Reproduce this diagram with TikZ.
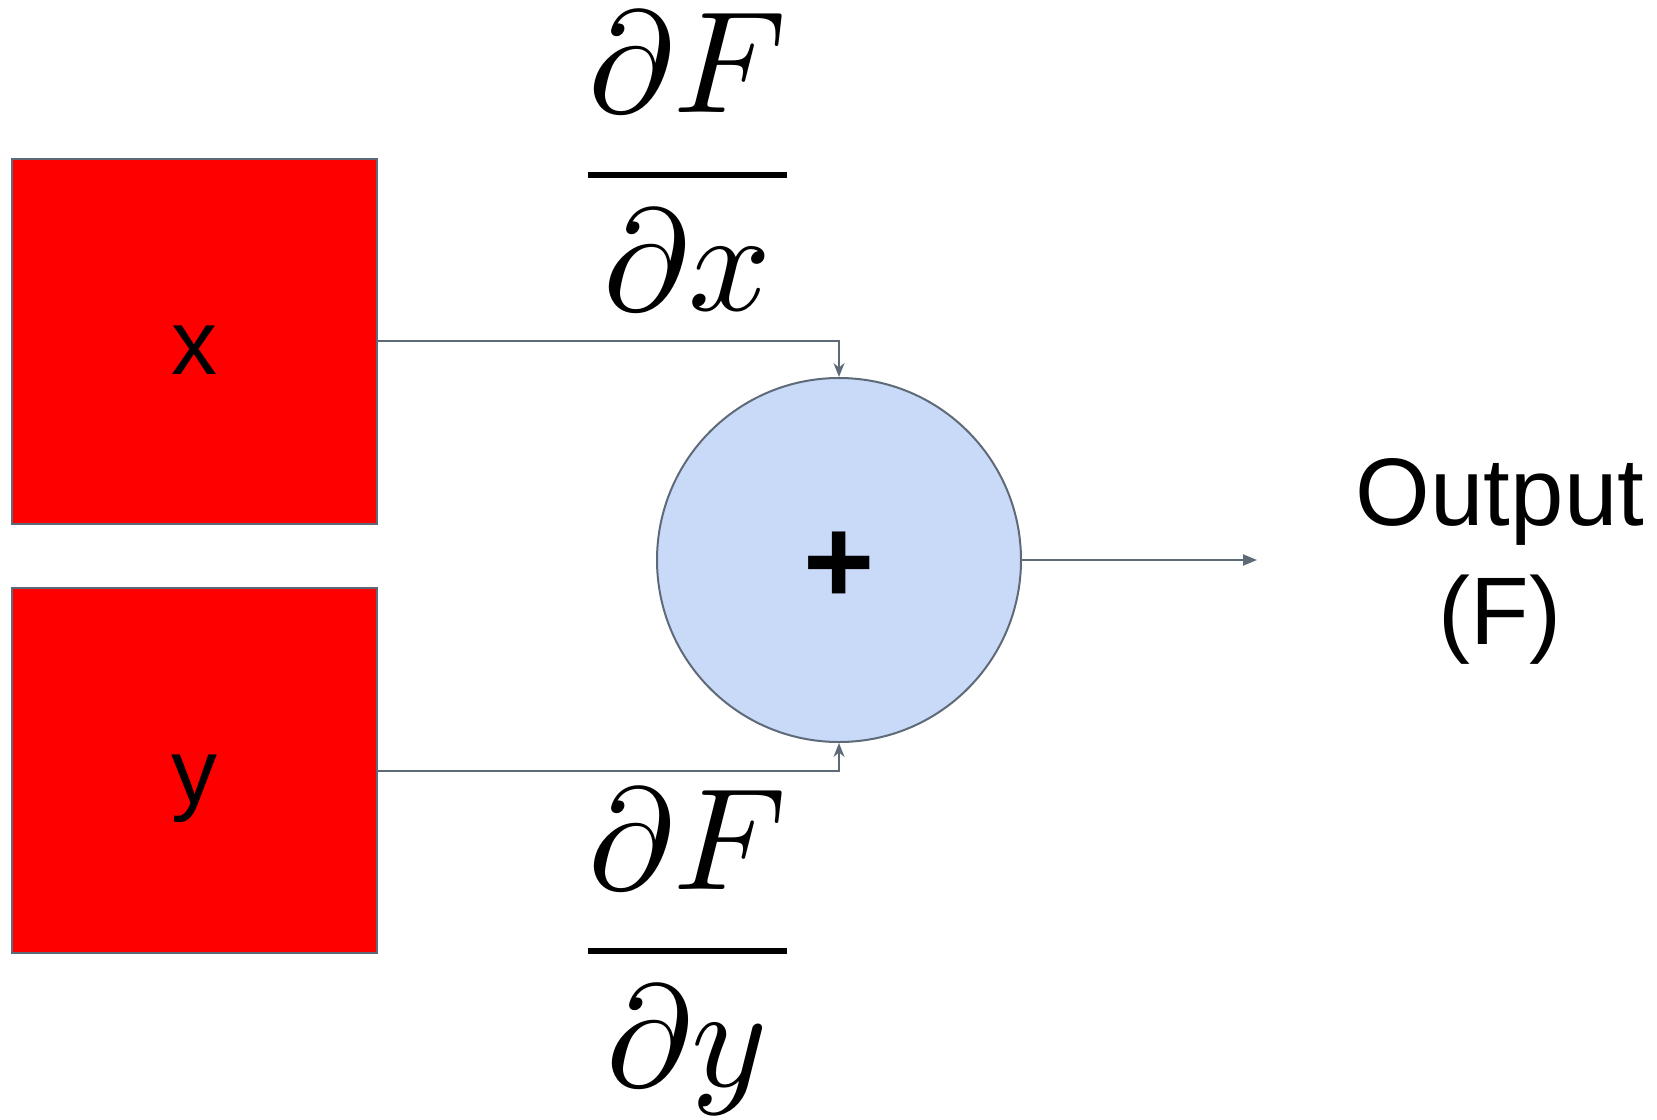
\RequirePackage{fix-cm}
\documentclass[tikz,border=0pt]{standalone}
\usepackage{fontspec}
\setmainfont{Liberation Sans}
\DeclareFontShape{OML}{cmm}{m}{it}{<-> cmmi10}{}
\DeclareFontShape{OMX}{cmex}{m}{n}{<-> cmex10}{}
\usepackage{xcolor}
\usepackage{tikz}
\usetikzlibrary{shapes.geometric, arrows.meta, positioning, calc}
\definecolor{inputred}{RGB}{255, 0, 0}
\definecolor{edgegray}{RGB}{95, 106, 120}
\definecolor{sumblue}{RGB}{201, 218, 248}
\tikzstyle{inputbox} = [
    rectangle,
    minimum width=365pt,
    minimum height=365pt,
    inner sep=0pt,
    draw=edgegray,
    line width=2pt,
    fill=inputred,
    text height=86pt,
    text depth=20pt,
    font=\fontsize{92}{110}\selectfont
]
\tikzstyle{sumnode} = [
    circle,
    minimum size=364pt,
    inner sep=0pt,
    draw=edgegray,
    line width=2pt,
    fill=sumblue,
    text height=86pt,
    text depth=0pt,
    font=\fontsize{122}{140}\selectfont\bfseries
]
\tikzstyle{grad} = [
    anchor=base,
    inner sep=0pt,
    font=\fontsize{145}{160}\selectfont
]
\tikzstyle{arrow} = [
    line width=2pt,
    ->,
    >={Stealth[length=14pt, width=11pt]},
    color=edgegray
]

\begin{document}
\begin{tikzpicture}[x=1pt, y=-1pt]
        \useasboundingbox (0, 0) rectangle (1657, 1119);

        % Inputs
        \node[inputbox] (xin) at (194.5, 341) {x};
        \node[inputbox] (yin) at (194.5, 770.5) {y};

        % Sum
        \node[sumnode] (sum) at (839, 560) {+};

        % Output
        \coordinate (outend) at (1257, 560);
        \node[align=center, font=\fontsize{96}{119}\selectfont] (output) at (1500, 561) {Output\\(F)};

        % Gradients
        \node[grad] (dfdx) at (687.5, 211) {$\displaystyle\frac{\partial F}{\partial x}$};
        \node[grad] (dfdy) at (687.5, 987.5) {$\displaystyle\frac{\partial F}{\partial y}$};

        % Arrows into the sum
        \draw[arrow] (xin.east) -| (sum.north);
        \draw[arrow] (yin.east) -| (sum.south);

        % Arrow out
        \draw[arrow, >={Triangle[length=14pt, width=11pt]}] (sum.east) -- (outend);
    \end{tikzpicture}
\end{document}
